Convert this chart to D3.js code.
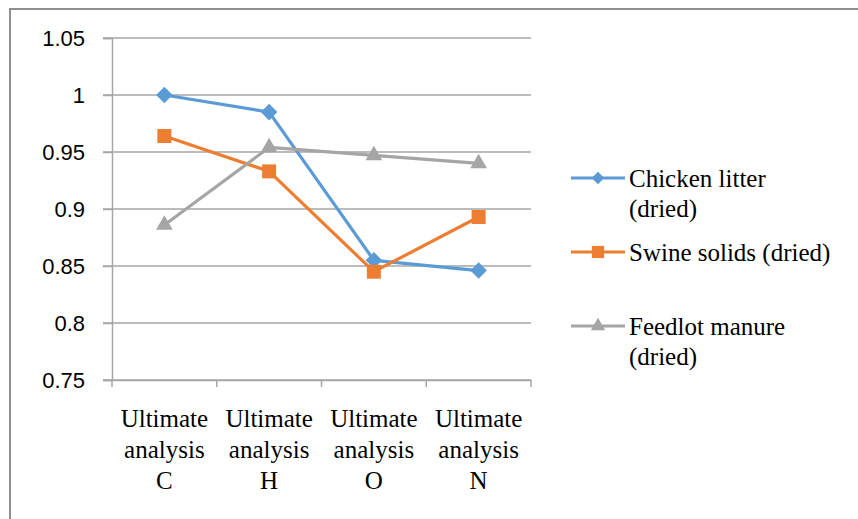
<!DOCTYPE html>
<html>
<head>
<meta charset="utf-8">
<script src="https://cdn.jsdelivr.net/npm/d3@7"></script>
<style>
  body { margin: 0; background: #fff; }
</style>
</head>
<body>
<svg id="chart" width="858" height="519"></svg>
<script>
const categories = ["C", "H", "O", "N"];
const categoryLines = ["Ultimate", "analysis"];
const chickenLitter = [1.0, 0.985, 0.855, 0.846];
const swineSolids = [0.964, 0.933, 0.845, 0.893];
const feedlotManure = [0.886, 0.954, 0.947, 0.940];
const yTicks = [0.75, 0.8, 0.85, 0.9, 0.95, 1, 1.05];

const series = [
  { name: ["Chicken litter", "(dried)"], values: chickenLitter, color: "#5B9BD5", symbol: d3.symbolDiamond2, size: 175, legendSize: 100, legendY: 178 },
  { name: ["Swine solids (dried)"], values: swineSolids, color: "#ED7D31", symbol: d3.symbolSquare2, size: 250, legendSize: 190, legendY: 252 },
  { name: ["Feedlot manure", "(dried)"], values: feedlotManure, color: "#A5A5A5", symbol: d3.symbolTriangle2, size: 200, legendSize: 150, legendY: 326 }
];

const svg = d3.select("#chart");
const margin = { left: 112, right: 531, top: 38, bottom: 380 };
const serif = "'Liberation Serif', 'Times New Roman', serif";
const sans = "'Liberation Sans', Arial, sans-serif";

// outer frame (only top and left edges visible)
svg.append("rect")
  .attr("x", 10).attr("y", 9)
  .attr("width", 880).attr("height", 560)
  .attr("fill", "none")
  .attr("stroke", "#8f8f8f")
  .attr("stroke-width", 2);

const x = d3.scaleBand()
  .domain(categories)
  .range([margin.left, margin.right]);

const y = d3.scaleLinear()
  .domain([0.75, 1.05])
  .range([margin.bottom, margin.top]);

// gridlines
svg.append("g")
  .selectAll("line")
  .data(yTicks)
  .join("line")
  .attr("x1", margin.left - 9)
  .attr("x2", margin.right)
  .attr("y1", d => y(d))
  .attr("y2", d => y(d))
  .attr("stroke", "#a6a6a6")
  .attr("stroke-width", 1.5);

// y axis
const yAxis = svg.append("g")
  .attr("transform", `translate(${margin.left},0)`)
  .call(d3.axisLeft(y).tickValues(yTicks).tickSize(9).tickPadding(18).tickFormat(d => String(+d.toFixed(2))));
yAxis.select(".domain").attr("stroke", "#a6a6a6").attr("stroke-width", 1.5);
yAxis.selectAll(".tick line").attr("stroke", "#a6a6a6").attr("stroke-width", 1.5);
yAxis.selectAll("text")
  .attr("font-size", "22px")
  .attr("font-family", sans)
  .attr("fill", "#000");

// x axis
const xAxis = svg.append("g")
  .attr("transform", `translate(0,${margin.bottom})`)
  .call(d3.axisBottom(x).tickSize(0).tickFormat(""));
xAxis.select(".domain").attr("stroke", "#a6a6a6").attr("stroke-width", 1.5);

// category tick marks at band edges
const edges = categories.map(c => x(c)).concat([margin.right]);
svg.append("g")
  .selectAll("line")
  .data(edges)
  .join("line")
  .attr("x1", d => d).attr("x2", d => d)
  .attr("y1", margin.bottom).attr("y2", margin.bottom + 7)
  .attr("stroke", "#a6a6a6")
  .attr("stroke-width", 1.5);

// category labels
const labels = svg.append("g")
  .selectAll("text")
  .data(categories)
  .join("text")
  .attr("x", d => x(d) + x.bandwidth() / 2)
  .attr("y", 427)
  .attr("text-anchor", "middle")
  .attr("font-size", "25px")
  .attr("font-family", serif)
  .attr("fill", "#000");
labels.each(function(d) {
  const t = d3.select(this);
  categoryLines.concat([d]).forEach((s, i) => {
    t.append("tspan")
      .attr("x", x(d) + x.bandwidth() / 2)
      .attr("dy", i === 0 ? 0 : 31)
      .text(s);
  });
});

const cx = d => x(d) + x.bandwidth() / 2;
const line = d3.line()
  .x((d, i) => cx(categories[i]))
  .y(d => y(d));

series.forEach(s => {
  svg.append("path")
    .datum(s.values)
    .attr("fill", "none")
    .attr("stroke", s.color)
    .attr("stroke-width", 3.2)
    .attr("stroke-linejoin", "round")
    .attr("d", line);
});

series.forEach(s => {
  const sym = d3.symbol().type(s.symbol).size(s.size);
  svg.append("g")
    .selectAll("path")
    .data(s.values)
    .join("path")
    .attr("transform", (d, i) => `translate(${cx(categories[i])},${y(d)})`)
    .attr("fill", s.color)
    .attr("d", sym);
});

// legend
const legend = svg.append("g");
series.forEach(s => {
  const g = legend.append("g");
  g.append("line")
    .attr("x1", 571).attr("x2", 625)
    .attr("y1", s.legendY).attr("y2", s.legendY)
    .attr("stroke", s.color)
    .attr("stroke-width", 3.2);
  const sym = d3.symbol().type(s.symbol).size(s.legendSize);
  g.append("path")
    .attr("transform", `translate(598,${s.legendY})`)
    .attr("fill", s.color)
    .attr("d", sym);
  const t = g.append("text")
    .attr("x", 629)
    .attr("y", s.legendY + 9)
    .attr("font-size", "25px")
    .attr("font-family", serif)
    .attr("fill", "#000");
  s.name.forEach((n, i) => {
    t.append("tspan").attr("x", 629).attr("dy", i === 0 ? 0 : 30).text(n);
  });
});
</script>
</body>
</html>
